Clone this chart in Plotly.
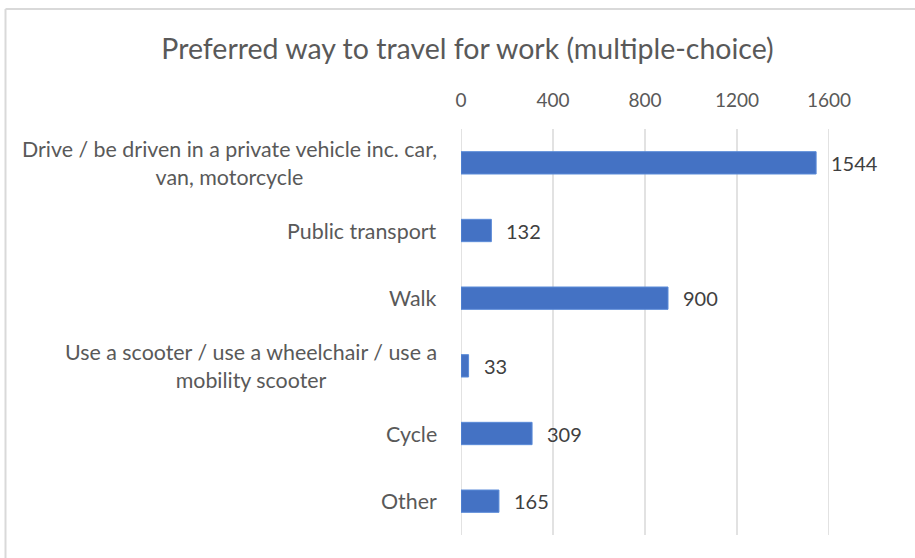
import plotly.graph_objects as go

categories = [
    "Drive / be driven in a private vehicle inc. car,<br>van, motorcycle",
    "Public transport",
    "Walk",
    "Use a scooter / use a wheelchair / use a<br>mobility scooter",
    "Cycle",
    "Other",
]
values = [1544, 132, 900, 33, 309, 165]
tick_values = [0, 400, 800, 1200, 1600]
tick_labels = ["0", "400", "800", "1200", "1600"]
title_text = "Preferred way to travel for work (multiple-choice)"

W, H = 915, 558
ML, MR, MT, MB = 461, 86, 129, 23
FONT = "Lato, Carlito, Calibri, sans-serif"
GRAY = "#595959"

fig = go.Figure(
    go.Bar(
        x=values,
        y=categories,
        orientation="h",
        marker=dict(color="#4472C4", line=dict(color="#5B8BD8", width=1)),
        hoverinfo="skip",
    )
)

annotations = []
for c in categories:
    annotations.append(dict(
        x=0, y=c, xref="x", yref="y", text=c, showarrow=False,
        xanchor="right", yanchor="middle", align="center", xshift=-22,
        font=dict(family=FONT, size=21.4, color=GRAY),
    ))
for c, v in zip(categories, values):
    annotations.append(dict(
        x=v, y=c, xref="x", yref="y", text=str(v), showarrow=False,
        xanchor="left", yanchor="middle", xshift=13,
        font=dict(family=FONT, size=20, color="#404040"),
    ))

pw = W - ML - MR
ph = H - MT - MB
def px2paper_x(px):
    return (px - ML) / pw
def py2paper_y(py):
    return (H - MB - py) / ph

shapes = [
    dict(type="line", xref="x", yref="paper", x0=t, x1=t, y0=0, y1=1,
         line=dict(color="#D9D9D9", width=1.5), layer="below")
    for t in tick_values
]
shapes += [
    dict(type="line", xref="paper", yref="paper",
         x0=px2paper_x(5.5), x1=px2paper_x(930), y0=py2paper_y(9), y1=py2paper_y(9),
         line=dict(color="#D9D9D9", width=2)),
    dict(type="line", xref="paper", yref="paper",
         x0=px2paper_x(5.5), x1=px2paper_x(5.5), y0=py2paper_y(9), y1=py2paper_y(570),
         line=dict(color="#D9D9D9", width=2)),
]

fig.update_layout(
    width=W, height=H,
    margin=dict(l=ML, r=MR, t=MT, b=MB, autoexpand=False),
    paper_bgcolor="white", plot_bgcolor="white",
    title=dict(text=title_text, x=467.5 / W, xanchor="center", y=1 - 49 / H, yanchor="middle",
               font=dict(family=FONT, size=28.5, color=GRAY)),
    bargap=0.67,
    showlegend=False,
    xaxis=dict(
        side="top", range=[0, 1600], tickvals=tick_values, ticktext=tick_labels,
        showgrid=False, zeroline=False,
        showline=False, ticks="", tickfont=dict(family=FONT, size=19, color=GRAY),
        ticklabelstandoff=17, automargin=False, fixedrange=True,
    ),
    yaxis=dict(
        autorange="reversed", showticklabels=False, showgrid=False, zeroline=False,
        showline=False, ticks="", automargin=False, fixedrange=True,
    ),
    annotations=annotations,
    shapes=shapes,
)

fig.write_html("out.html", config={"displayModeBar": False},
               post_script="document.body.style.margin='0';")
